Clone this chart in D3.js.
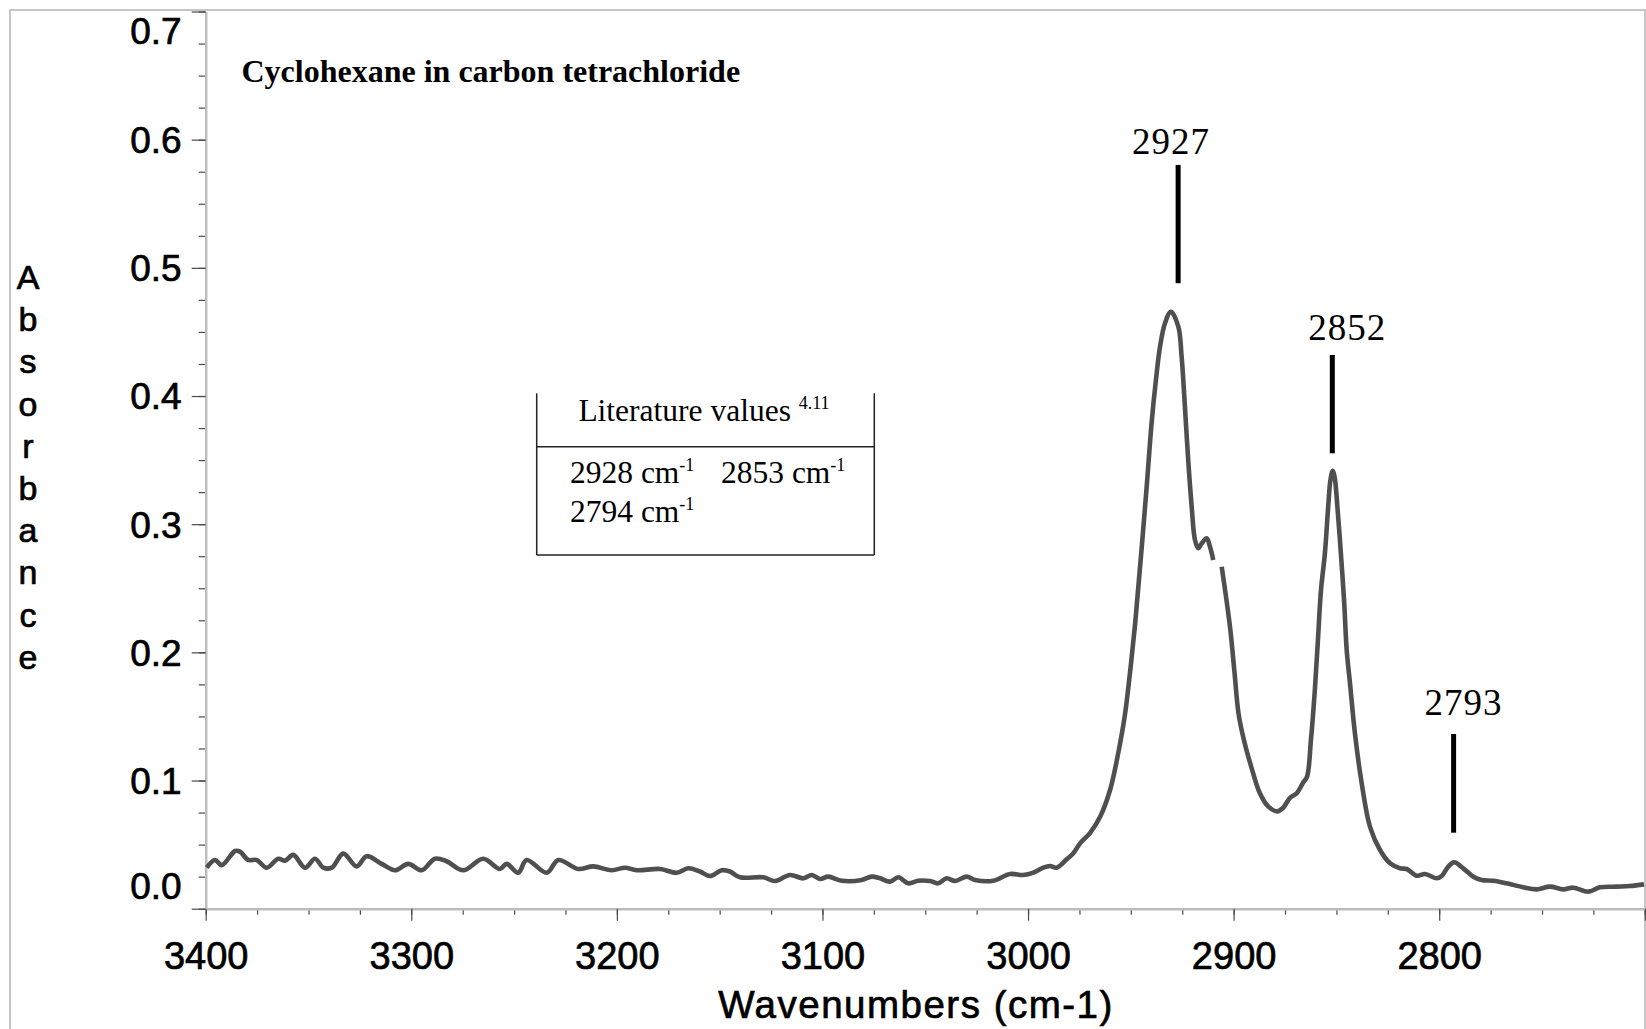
<!DOCTYPE html>
<html>
<head>
<meta charset="utf-8">
<script src="https://cdn.jsdelivr.net/npm/d3@7"></script>
<style>
  html, body { margin: 0; padding: 0; background: #ffffff; }
  svg { display: block; }
</style>
</head>
<body>
<svg id="chart" width="1646" height="1029"></svg>
<script>
// IR spectrum of cyclohexane in CCl4: wavenumber (cm-1) and absorbance.
// A null absorbance marks a break in the recorded trace.
const wavenumbers = [
  3399.5, 3395.5, 3392.2, 3385.7, 3383.3, 3379.3, 3375.2, 3370.3, 3364.7, 3361.4,
  3357.4, 3351.7, 3346.8, 3342.8, 3338.7, 3333.1, 3326.6, 3321.7, 3314.4, 3307.9,
  3301.5, 3294.9, 3288.5, 3282.8, 3274.7, 3265.0, 3256.9, 3253.6, 3248.0, 3243.9,
  3234.1, 3228.5, 3218.8, 3211.5, 3202.5, 3196.0, 3190.4, 3179.0, 3170.9, 3165.3,
  3159.6, 3154.7, 3149.0, 3145.0, 3140.1, 3128.8, 3123.1, 3115.8, 3109.3, 3105.2,
  3101.2, 3097.2, 3090.6, 3080.9, 3076.1, 3072.0, 3067.2, 3063.1, 3058.3, 3053.4,
  3047.7, 3043.7, 3039.6, 3035.5, 3029.8, 3025.8, 3016.9, 3008.8, 3002.3, 2997.4,
  2992.6, 2989.3, 2986.1, 2981.2, 2978.0, 2974.7, 2969.9, 2965.0, 2960.1, 2956.3,
  2952.9, 2950.0, 2948.0, 2946.9, 2944.7, 2942.3, 2939.9, 2937.8, 2935.8, 2933.4,
  2930.5, 2926.9, 2925.3, 2923.7, 2922.1, 2920.4, 2918.8, 2917.2, 2915.5, 2913.1,
  2911.5, 2909.9, 2908.0, 2905.8, 2903.6, 2901.6, 2899.6, 2897.6, 2895.0, 2891.5,
  2887.4, 2883.3, 2878.7, 2876.0, 2872.6, 2869.2, 2866.3, 2864.3, 2862.4, 2860.5,
  2859.0, 2857.5, 2855.6, 2854.0, 2852.9, 2851.8, 2850.8, 2849.9, 2848.3, 2846.3,
  2845.0, 2843.4, 2841.0, 2837.7, 2833.7, 2828.8, 2823.9, 2819.1, 2815.8, 2810.9,
  2806.9, 2801.2, 2798.8, 2795.6, 2792.8, 2788.3, 2783.4, 2779.4, 2773.7, 2767.2,
  2759.1, 2752.6, 2746.1, 2739.7, 2734.8, 2727.5, 2721.8, 2713.7, 2707.2, 2700.4
];
const absorbance = [
  0.032, 0.038, 0.034, 0.045, 0.0445, 0.038, 0.038, 0.032, 0.039, 0.0375,
  0.042, 0.032, 0.039, 0.032, 0.032, 0.043, 0.033, 0.041, 0.035, 0.030,
  0.035, 0.030, 0.039, 0.037, 0.030, 0.039, 0.031, 0.035, 0.028, 0.038,
  0.028, 0.038, 0.031, 0.033, 0.030, 0.032, 0.030, 0.031, 0.028, 0.0315,
  0.029, 0.0255, 0.030, 0.029, 0.0245, 0.0245, 0.0216, 0.0263, 0.0237, 0.0263,
  0.0232, 0.025, 0.0218, 0.0224, 0.025, 0.0237, 0.0211, 0.0245, 0.0198, 0.0218,
  0.0216, 0.0198, 0.0237, 0.0216, 0.025, 0.0224, 0.0218, 0.0271, 0.0263, 0.0281,
  0.032, 0.0333, 0.032, 0.0385, 0.0432, 0.051, 0.059, 0.0715, 0.0926, 0.120,
  0.151, 0.190, 0.221, 0.241, 0.282, 0.329, 0.379, 0.4125, 0.4385, 0.4567,
  0.4658, 0.4541, 0.4307, 0.3917, 0.3501, 0.3136, 0.2877, 0.2812, 0.2851, 0.289,
  0.2824, 0.2721, null, 0.2668, 0.2422, 0.2176, 0.1848, 0.1521, 0.1316, 0.1111,
  0.0907, 0.080, 0.0759, 0.0786, 0.0864, 0.0903, 0.0981, 0.103, 0.1316, 0.1706,
  0.2096, 0.2486, 0.2773, 0.3137, 0.3345, 0.3417, 0.336, 0.3214, 0.2877, 0.2409,
  0.2018, 0.1759, 0.1369, 0.0978, 0.064, 0.0458, 0.0354, 0.0315, 0.031, 0.0257,
  0.0271, 0.0237, 0.0255, 0.0328, 0.0362, 0.0315, 0.025, 0.0224, 0.0218, 0.0198,
  0.0167, 0.0151, 0.0172, 0.0151, 0.0164, 0.0133, 0.0167, 0.0172, 0.0177, 0.019
];

// Axis ticks and labels
const xMajorTicks = [3400, 3300, 3200, 3100, 3000, 2900, 2800, 2700];
const xTickLabels = ["3400", "3300", "3200", "3100", "3000", "2900", "2800", ""];
const yMajorTicks = [0, 0.1, 0.2, 0.3, 0.4, 0.5, 0.6, 0.7];
const yTickLabels = ["0.0", "0.1", "0.2", "0.3", "0.4", "0.5", "0.6", "0.7"];

// Peak annotations
const peakWavenumbers = [2927, 2852, 2793];
const peakLabels = ["2927", "2852", "2793"];

// Reference table
const literatureHeading = "Literature values";
const literatureRef = "4.11";
const literatureValues = ["2928", "2853", "2794"];

const chartTitle = "Cyclohexane in carbon tetrachloride";
const xTitle = "Wavenumbers (cm-1)";
const yTitle = "Absorbance";

// ---- layout ----
const W = 1646, H = 1029;
const plot = { left: 205.7, right: 1644.8, top: 11.5, bottom: 908.7 };
// annotation placement (absorbance units / pixel nudges)
const markerTop = [0.5803, 0.4320, 0.1363];
const markerBottom = [0.4880, 0.3553, 0.0593];
const labelBaseline = [0.5889, 0.4437, 0.1511];
const labelNudge = [-7, 15, 10];

const SANS = "'Liberation Sans', Arial, Helvetica, sans-serif";
const SERIF = "'Liberation Serif', 'Times New Roman', Times, serif";

const svg = d3.select("#chart");

const x = d3.scaleLinear().domain([3400, 2700]).range([plot.left, plot.right]);
const y = d3.scaleLinear().domain([0, 0.7]).range([plot.bottom, plot.top]);

// outer frame
svg.append("rect")
  .attr("x", 10).attr("y", 10)
  .attr("width", 1635).attr("height", H)
  .attr("fill", "none").attr("stroke", "#c6c6c6").attr("stroke-width", 2);

const tickColor = "#4a4a4a";

// heavier sans lettering used on the axes
function heavy(sel) {
  return sel.attr("stroke", "#000").attr("stroke-width", 0.7).attr("paint-order", "stroke");
}

// minor ticks
const xMinor = d3.range(3400, 2699, -25);
const yMinor = d3.range(0, 0.7001, 0.025);

const gxMinor = svg.append("g")
  .attr("transform", `translate(0,${plot.bottom})`)
  .call(d3.axisBottom(x).tickValues(xMinor).tickSize(6).tickSizeOuter(0).tickFormat(""));
gxMinor.select(".domain").remove();

const gyMinor = svg.append("g")
  .attr("transform", `translate(${plot.left},0)`)
  .call(d3.axisLeft(y).tickValues(yMinor).tickSize(7).tickSizeOuter(0).tickFormat(""));
gyMinor.select(".domain").remove();

// major x axis
const gx = svg.append("g")
  .attr("transform", `translate(0,${plot.bottom})`)
  .call(d3.axisBottom(x).tickValues(xMajorTicks).tickSize(12).tickSizeOuter(0)
    .tickFormat((d, i) => xTickLabels[i]));
heavy(gx.selectAll("text")
  .attr("y", 60).attr("dy", 0)
  .attr("font-family", SANS).attr("font-size", 38).attr("fill", "#000"));

// major y axis
const gy = svg.append("g")
  .attr("transform", `translate(${plot.left},0)`)
  .call(d3.axisLeft(y).tickValues(yMajorTicks).tickSize(14).tickPadding(10).tickSizeOuter(0)
    .tickFormat((d, i) => yTickLabels[i]));
heavy(gy.selectAll("text")
  .attr("font-family", SANS).attr("font-size", 37).attr("fill", "#000")
  .attr("dy", "0.35em")
  .attr("transform", (d, i) => i === 0 ? "translate(0,-23)" : (i === yMajorTicks.length - 1 ? "translate(0,19.5)" : null)));

[gxMinor, gyMinor, gx, gy].forEach(g => g.selectAll(".tick line").attr("stroke", tickColor).attr("stroke-width", 1.2));
[gx, gy].forEach(g => g.select(".domain").attr("stroke", "#bcbcbc").attr("stroke-width", 2.5));

// spectrum trace
const points = wavenumbers.map((w, i) => ({ w, a: absorbance[i] }));
const line = d3.line()
  .defined(d => d.a !== null)
  .x(d => x(d.w))
  .y(d => y(d.a))
  .curve(d3.curveCatmullRom.alpha(0.5));

svg.append("path")
  .datum(points)
  .attr("d", line)
  .attr("fill", "none")
  .attr("stroke", "#4f4f4f")
  .attr("stroke-width", 4.6)
  .attr("stroke-linejoin", "round")
  .attr("stroke-linecap", "butt");

// peak markers
const peaks = svg.append("g");
peakWavenumbers.forEach((w, i) => {
  peaks.append("line")
    .attr("x1", x(w)).attr("x2", x(w))
    .attr("y1", y(markerTop[i])).attr("y2", y(markerBottom[i]))
    .attr("stroke", "#000").attr("stroke-width", 5);
  peaks.append("text")
    .attr("x", x(w) + labelNudge[i]).attr("y", y(labelBaseline[i]))
    .attr("text-anchor", "middle")
    .attr("font-family", SERIF).attr("font-size", 37).attr("fill", "#000")
    .attr("letter-spacing", 1)
    .text(peakLabels[i]);
});

// title
svg.append("text")
  .attr("x", 241.5).attr("y", 82)
  .attr("font-family", SERIF).attr("font-size", 32).attr("font-weight", "bold")
  .attr("fill", "#000")
  .text(chartTitle);

// x axis title
heavy(svg.append("text")
  .attr("x", 916).attr("y", 1018)
  .attr("text-anchor", "middle")
  .attr("font-family", SANS).attr("font-size", 38.5).attr("fill", "#000")
  .attr("letter-spacing", 1.5)
  .text(xTitle));

// y axis title, one letter per line
const yt = svg.append("g");
yTitle.split("").forEach((ch, i) => {
  heavy(yt.append("text")
    .attr("x", 28).attr("y", 289 + i * 42.2)
    .attr("text-anchor", "middle")
    .attr("font-family", SANS).attr("font-size", 34).attr("fill", "#000")
    .text(ch));
});

// literature values table
const box = { left: 536.7, right: 874.3, top: 393.3, mid: 446.7, bottom: 555 };
const tb = svg.append("g").attr("stroke", "#222").attr("stroke-width", 1.5);
tb.append("line").attr("x1", box.left).attr("x2", box.left).attr("y1", box.top).attr("y2", box.bottom);
tb.append("line").attr("x1", box.right).attr("x2", box.right).attr("y1", box.top).attr("y2", box.bottom);
tb.append("line").attr("x1", box.left).attr("x2", box.right).attr("y1", box.mid).attr("y2", box.mid);
tb.append("line").attr("x1", box.left).attr("x2", box.right).attr("y1", box.bottom).attr("y2", box.bottom);

const head = svg.append("text")
  .attr("x", 704).attr("y", 421)
  .attr("text-anchor", "middle")
  .attr("font-family", SERIF).attr("font-size", 31.5).attr("fill", "#000");
head.append("tspan").text(literatureHeading + " ");
head.append("tspan").attr("font-size", 18).attr("dy", -12).text(literatureRef);

const valuePos = [[570, 483], [721, 483], [570, 522]];
literatureValues.forEach((v, i) => {
  const t = svg.append("text")
    .attr("x", valuePos[i][0]).attr("y", valuePos[i][1])
    .attr("font-family", SERIF).attr("font-size", 31.5).attr("fill", "#000");
  t.append("tspan").text(v + " cm");
  t.append("tspan").attr("font-size", 18).attr("dy", -12).text("-1");
});
</script>
</body>
</html>
